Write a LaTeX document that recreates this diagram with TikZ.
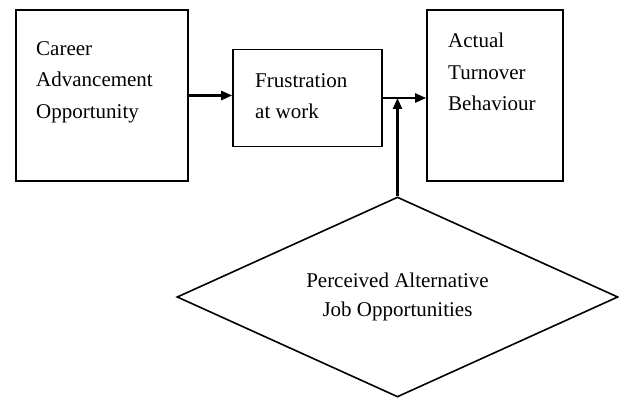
\documentclass[tikz,border=0pt]{standalone}
\usepackage{fontspec}
\setmainfont{Liberation Serif}
\usepackage{tikz}
\usetikzlibrary{positioning,arrows.meta,shapes.geometric}

\begin{document}
\begin{tikzpicture}[
    x=1pt, y=-1pt,
    box/.style={rectangle, draw, line width=1.6pt},
    txt/.style={align=left, inner sep=0pt, anchor=north west, font=\fontsize{21}{31.5}\selectfont},
    factor/.style={diamond, draw, line width=1.6pt, inner sep=0pt, aspect=2.2, minimum width=441pt, minimum height=200pt, align=center, font=\fontsize{21}{29}\selectfont},
    arrow/.style={-{Triangle[length=11pt,width=9pt]}, line width=2.4pt}
]
    \useasboundingbox (0,0) rectangle (619,398);

    % Boxes
    \node[box, minimum width=172pt, minimum height=171pt] (career) at (102,95.5) {};
    \node[box, minimum width=149pt, minimum height=97pt] (frustration) at (307.5,98) {};
    \node[box, minimum width=136pt, minimum height=171pt] (turnover) at (495,95.5) {};
    \node[factor] (perceived) at (397.5,297) {Perceived Alternative\\Job Opportunities};

    % Texts
    \node[txt] (careertxt) at (36,41) {Career\\Advancement\\Opportunity};
    \node[txt] (frustrationtxt) at (255,73) {Frustration\\at work};
    \node[txt] (turnovertxt) at (448,33) {Actual\\Turnover\\Behaviour};

    % Arrows
    \draw[arrow] (career.east) -- (career.east -| frustration.west);
    \draw[arrow] (frustration.east) -- (frustration.east -| turnover.west);
    \draw[arrow] (perceived.north) -- (perceived.north |- frustration.east);
\end{tikzpicture}
\end{document}
